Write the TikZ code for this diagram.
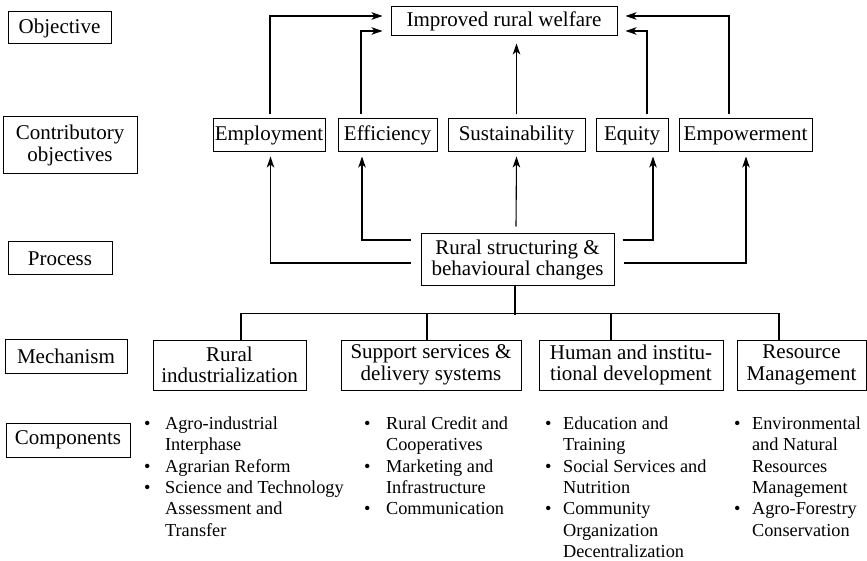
\documentclass[tikz,border=0pt]{standalone}
\usepackage{fontspec}
\setmainfont{Liberation Serif}
\usetikzlibrary{arrows.meta,calc}
\begin{document}
\begin{tikzpicture}[x=1pt,y=-1pt,
  box/.style={draw,line width=1pt,inner sep=0pt,align=center,font=\fontsize{21}{21.5}\selectfont},
  conn/.style={line width=1.1pt},
  arr/.style={conn,-{Stealth[length=11pt,width=7.5pt,inset=3pt]}},
  lst/.style={inner sep=0pt,anchor=base west,font=\fontsize{18.3}{21.3}\selectfont}]
\useasboundingbox (0,0) rectangle (867,561);
% left labels
\node[box,minimum width=103pt,minimum height=32pt] (lobj) at (59.5,28) {Objective};
\node[box,minimum width=134pt,minimum height=57pt] (lcon) at (70,145.5) {Contributory\\objectives};
\node[box,minimum width=104pt,minimum height=33pt] (lpro) at (60,258.5) {Process};
\node[box,minimum width=122pt,minimum height=34pt] (lmec) at (66,356) {Mechanism};
\node[box,minimum width=124pt,minimum height=34pt] (lcom) at (68,440) {Components};
% objective
\node[box,minimum width=226pt,minimum height=29pt] (imp) at (504,21.5) {Improved rural welfare};
% contributory objectives
\node[box,minimum width=112pt,minimum height=33pt] (emp) at (269,135.5) {Employment};
\node[box,minimum width=99pt,minimum height=33pt] (eff) at (387.5,135.5) {Efficiency};
\node[box,minimum width=137pt,minimum height=33pt] (sus) at (516.5,135.5) {Sustainability};
\node[box,minimum width=72pt,minimum height=33pt] (equ) at (632,135.5) {Equity};
\node[box,minimum width=133pt,minimum height=33pt] (epw) at (745.5,135.5) {Empowerment};
% process
\node[box,minimum width=193pt,minimum height=52pt] (proc) at (517.5,260) {Rural structuring \&\\behavioural changes};
% mechanisms
\node[box,minimum width=153pt,minimum height=50pt] (ri) at (229.5,365) {Rural\\industrialization};
\node[box,minimum width=180pt,minimum height=50pt] (ss) at (431,365) {Support services \&\\delivery systems};
\node[box,minimum width=184pt,minimum height=50pt] (hi) at (631,365) {Human and institu-\\tional development};
\node[box,minimum width=129pt,minimum height=50pt] (rm) at (801.5,365) {Resource\\Management};
% components
\node[lst] (c1) at (144,429.5) {\begin{tabular}[t]{@{}l@{\hspace{14.5pt}}l@{}}\textbullet & Agro-industrial\\ & Interphase\\ \textbullet & Agrarian Reform\\ \textbullet & Science and Technology\\ & Assessment and\\ & Transfer\end{tabular}};
\node[lst] (c2) at (364,429.5) {\begin{tabular}[t]{@{}l@{\hspace{15.5pt}}l@{}}\textbullet & Rural Credit and\\ & Cooperatives\\ \textbullet & Marketing and\\ & Infrastructure\\ \textbullet & Communication\end{tabular}};
\node[lst] (c3) at (545,429.5) {\begin{tabular}[t]{@{}l@{\hspace{11.5pt}}l@{}}\textbullet & Education and\\ & Training\\ \textbullet & Social Services and\\ & Nutrition\\ \textbullet & Community\\ & Organization\\ & Decentralization\end{tabular}};
\node[lst] (c4) at (734,429.5) {\begin{tabular}[t]{@{}l@{\hspace{11.5pt}}l@{}}\textbullet & Environmental\\ & and Natural\\ & Resources\\ & Management\\ \textbullet & Agro-Forestry\\ & Conservation\end{tabular}};
% contributory -> objective
\draw[arr] ($(emp.north)+(1,-4)$) |- ($(imp.west)+(-8,-5.5)$);
\draw[arr] ($(eff.north)+(-26.5,-4)$) |- ($(imp.west)+(-8,9.5)$);
\draw[arr] ($(sus.north)+(0,-4)$) -- ($(imp.south -| sus.north)+(0,7)$);
\draw[arr] ($(equ.north)+(15,-4)$) |- ($(imp.east)+(8,9.5)$);
\draw[arr] ($(epw.north)+(-16.5,-4)$) |- ($(imp.east)+(8,-5.5)$);
% process -> contributory
\draw[arr] ($(proc.west)+(-10,3)$) -| ($(emp.south)+(1.5,4)$);
\draw[arr] ($(proc.west)+(-10,-20)$) -| ($(eff.south)+(-25.5,4)$);
\draw[arr] ($(proc.north)+(-1.5,-7)$) -- ($(sus.south)+(0,4)$);
\draw[arr] ($(proc.east)+(8,-20)$) -| ($(equ.south)+(21,4)$);
\draw[arr] ($(proc.east)+(9,3)$) -| ($(epw.south)+(0.5,4)$);
% process -> mechanisms
\coordinate (bus) at ($(proc.south)+(-2.5,28)$);
\draw[conn] ($(proc.south)+(-2.5,0)$) -- (bus);
\draw[conn] ($(ri.north)+(11.5,0)$) |- ($(rm.north)+(-22.5,-26)$) -- ($(rm.north)+(-22.5,0)$);
\draw[conn] ($(ss.north)+(-4,0)$) -- ++(0,-26);
\draw[conn] ($(hi.north)+(-20,0)$) -- ++(0,-26);
\end{tikzpicture}
\end{document}
